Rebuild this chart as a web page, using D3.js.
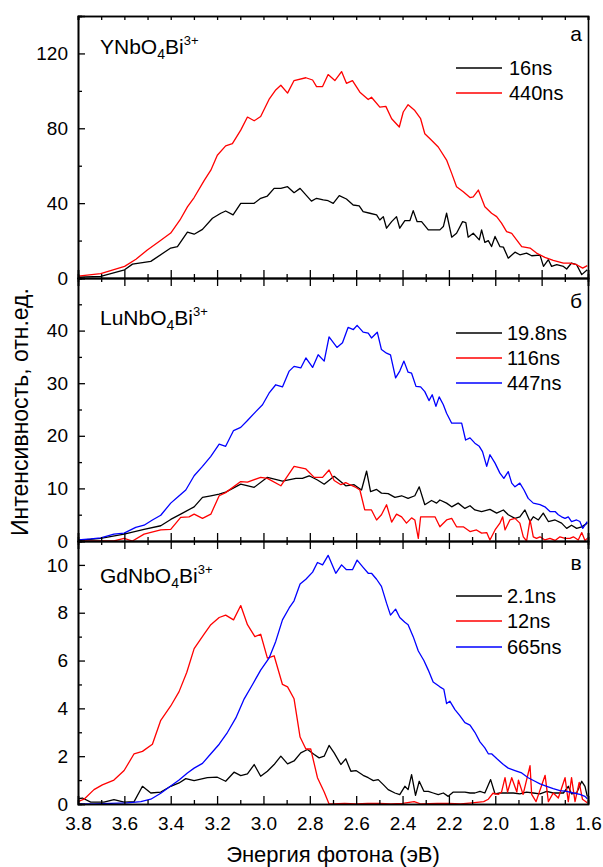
<!DOCTYPE html>
<html><head><meta charset="utf-8">
<script src="https://cdn.jsdelivr.net/npm/d3@7/dist/d3.min.js"></script>
<style>body{margin:0;background:#fff}svg{display:block}text{font-family:Arial,"Liberation Sans",sans-serif;fill:#000}</style>
</head><body><svg id="c" width="603" height="867"></svg>
<script>
// ---------- data (energy eV, intensity) ----------
const xTicks = [3.8,3.6,3.4,3.2,3.0,2.8,2.6,2.4,2.2,2.0,1.8,1.6];
const yTicksA = [0,40,80,120], yTicksB = [0,10,20,30,40], yTicksC = [0,2,4,6,8,10];
const namesA = ["16ns","440ns"], namesB = ["19.8ns","116ns","447ns"], namesC = ["2.1ns","12ns","665ns"];

const yn16 = [[3.800,0.5],[3.702,0.9],[3.599,4.4],[3.565,7.4],[3.486,8.9],[3.400,16],[3.371,16.8],[3.328,24.5],[3.299,23.4],[3.263,26],[3.220,31.9],[3.184,34.6],[3.163,35.8],[3.131,33.7],[3.098,39.9],[3.040,39.9],[3.012,42.6],[2.983,43.8],[2.954,47.9],[2.925,47.9],[2.896,48.8],[2.868,45.6],[2.842,47.9],[2.793,41.1],[2.771,42.6],[2.742,41.7],[2.721,41.3],[2.699,39.9],[2.673,44],[2.642,42.2],[2.613,39],[2.587,38.5],[2.570,35.5],[2.541,34.6],[2.512,33.7],[2.498,31],[2.483,32.8],[2.469,26.6],[2.447,30.1],[2.426,32.8],[2.412,26.6],[2.390,30.7],[2.368,30.7],[2.354,36],[2.337,30.1],[2.318,30.1],[2.289,25.7],[2.268,25.7],[2.239,25.7],[2.224,27.5],[2.210,34.6],[2.188,21.8],[2.167,23.9],[2.141,30.1],[2.127,29.6],[2.117,21.8],[2.095,23.9],[2.069,20.4],[2.059,25.7],[2.045,19],[2.030,20],[2.016,16.8],[2.001,22.2],[1.980,16.8],[1.965,16.5],[1.944,10.6],[1.915,13.8],[1.894,12.4],[1.865,13.3],[1.843,11.9],[1.807,12.2],[1.792,6.2],[1.771,9.8],[1.757,6.2],[1.735,7.1],[1.706,6.2],[1.692,4.8],[1.671,8],[1.649,7.1],[1.627,1.8],[1.603,4.4]];
const yn440 = [[3.800,1],[3.702,2.3],[3.599,6.2],[3.550,10],[3.501,15],[3.450,19.5],[3.400,24],[3.360,31],[3.328,38],[3.299,43],[3.256,52],[3.227,57.6],[3.199,65.6],[3.163,70.6],[3.134,71.8],[3.098,79],[3.069,86],[3.040,84],[3.012,86.3],[2.976,95.4],[2.947,100.5],[2.925,103],[2.896,98.8],[2.868,105.5],[2.817,107],[2.788,105.8],[2.771,102.3],[2.745,102.3],[2.721,108.7],[2.692,105.5],[2.663,110.3],[2.642,104],[2.616,105.5],[2.584,99.3],[2.548,95.4],[2.534,96.6],[2.498,91.3],[2.472,91.7],[2.447,85.1],[2.414,80.7],[2.397,88.7],[2.376,92.6],[2.347,89.5],[2.322,85.1],[2.304,77.1],[2.275,73.6],[2.246,70],[2.210,63],[2.188,55.9],[2.167,48.8],[2.138,46.1],[2.109,43],[2.095,43.4],[2.073,47],[2.045,38.1],[2.016,34.6],[1.994,32.8],[1.973,29.3],[1.951,24.8],[1.929,23.9],[1.908,20.4],[1.886,16.8],[1.850,16],[1.822,13.3],[1.786,11],[1.750,9.4],[1.706,8],[1.678,8],[1.649,7.1],[1.623,5.3],[1.603,6.6]];

const lu198 = [[3.800,0.1],[3.702,0.5],[3.601,1.3],[3.515,2.2],[3.443,2.9],[3.400,4.1],[3.357,5.1],[3.299,6.5],[3.263,8.3],[3.227,8.6],[3.191,8.9],[3.163,9.3],[3.098,10.8],[3.040,10.2],[2.983,12.1],[2.918,11.4],[2.860,11.9],[2.832,11.9],[2.803,12.4],[2.767,11.6],[2.738,10.8],[2.695,12.3],[2.645,10.5],[2.609,10.7],[2.577,9.7],[2.555,13.3],[2.538,9.4],[2.512,9.8],[2.491,9.1],[2.462,9],[2.433,8.3],[2.404,8.6],[2.376,8.1],[2.347,8.6],[2.328,10.3],[2.304,6.9],[2.275,7.7],[2.253,7.2],[2.239,7.8],[2.210,7.2],[2.188,6.5],[2.160,7.2],[2.131,6.2],[2.109,6.7],[2.088,5.9],[2.059,5.6],[2.023,6],[1.994,5.3],[1.965,5.9],[1.944,5],[1.915,4.3],[1.894,4.6],[1.872,5.9],[1.850,3.7],[1.836,4.6],[1.814,4],[1.793,5.3],[1.771,3.7],[1.742,4],[1.714,3.4],[1.692,2.4],[1.671,3],[1.649,2.4],[1.627,2.7],[1.603,3.4]];
const lu116 = [[3.800,0],[3.702,0],[3.645,0],[3.601,0.5],[3.565,0],[3.515,1.3],[3.443,2.1],[3.400,2.2],[3.357,4.5],[3.321,4.6],[3.299,5.1],[3.263,4.3],[3.227,5.1],[3.191,8.6],[3.163,9.2],[3.098,11.3],[3.069,11.2],[3.012,12.1],[2.983,11.9],[2.925,10.5],[2.868,14.2],[2.817,13.7],[2.781,12.1],[2.745,12.1],[2.717,13.5],[2.695,11.5],[2.666,10.7],[2.645,11.1],[2.627,10.7],[2.606,10.3],[2.584,9.7],[2.563,5.9],[2.534,5.9],[2.512,4],[2.491,5],[2.469,6.9],[2.447,3.6],[2.426,5.1],[2.404,4.6],[2.383,3.4],[2.361,4.4],[2.347,4],[2.332,0.5],[2.322,4.6],[2.275,4.6],[2.260,4.6],[2.239,2.7],[2.210,4],[2.188,4.3],[2.167,2.7],[2.138,2.7],[2.109,1.8],[2.081,2.1],[2.059,1.5],[2.037,1.6],[2.023,0.2],[2.001,2.1],[1.980,3.4],[1.968,4.6],[1.958,2.1],[1.937,4],[1.915,4.3],[1.894,3.4],[1.879,0.8],[1.865,0],[1.850,4],[1.836,0.8],[1.822,0.5],[1.807,0.8],[1.786,0.2],[1.764,0.5],[1.742,0.1],[1.721,0.8],[1.699,0.5],[1.678,0.5],[1.663,0.8],[1.642,0.2],[1.627,1.6],[1.613,0.1],[1.603,0.5]];
const lu447 = [[3.800,0.2],[3.745,0.4],[3.702,0.6],[3.645,1.3],[3.601,1.5],[3.551,2.6],[3.515,3],[3.479,4],[3.443,4.9],[3.400,7.2],[3.371,8.3],[3.335,9.7],[3.299,12.4],[3.263,14.2],[3.227,16.1],[3.191,18.4],[3.163,18],[3.129,21],[3.098,21.6],[3.069,22.9],[3.033,24.6],[3.004,25.9],[2.976,28.1],[2.947,29.7],[2.918,29.3],[2.889,32.3],[2.868,33.2],[2.839,32.9],[2.817,34.8],[2.788,33],[2.764,35.4],[2.738,34.2],[2.717,38.8],[2.683,36.8],[2.659,37.7],[2.635,40.6],[2.612,40.2],[2.596,41],[2.570,39.7],[2.548,39.5],[2.534,38.6],[2.509,39.7],[2.491,36.4],[2.469,35.7],[2.452,35.4],[2.430,31],[2.412,32.3],[2.394,34.2],[2.376,32.1],[2.361,31.9],[2.342,29.4],[2.322,29.3],[2.304,28.4],[2.286,26.7],[2.272,27.8],[2.256,25.6],[2.242,27.4],[2.224,25.9],[2.210,24.3],[2.188,22.4],[2.145,22.4],[2.128,19.2],[2.109,19.6],[2.088,18.6],[2.069,18],[2.055,17],[2.037,14.2],[2.023,16.4],[2.001,14.8],[1.980,12.9],[1.963,11.9],[1.944,13.2],[1.929,11],[1.915,10.3],[1.894,11],[1.876,9.7],[1.858,8.1],[1.836,7.2],[1.807,6.9],[1.786,6.5],[1.764,5.6],[1.742,5.6],[1.728,5],[1.714,4.6],[1.699,4.3],[1.685,4.6],[1.671,3.7],[1.649,4],[1.635,3.7],[1.623,2.4],[1.603,3.7]];

const gd21 = [[3.800,0.22],[3.781,0.25],[3.745,0.08],[3.688,0.08],[3.645,0.18],[3.601,0.08],[3.558,0.1],[3.522,0.74],[3.486,0.46],[3.443,0.5],[3.400,0.74],[3.364,0.88],[3.335,1.06],[3.299,0.98],[3.242,1.1],[3.199,1.12],[3.163,0.95],[3.127,1.33],[3.098,1.19],[3.069,1.26],[3.040,1.65],[3.012,1.16],[2.983,1.37],[2.954,1.65],[2.925,2],[2.896,1.68],[2.868,1.8],[2.839,2.14],[2.810,2.28],[2.781,2.07],[2.760,1.93],[2.738,2],[2.717,2.45],[2.695,2.14],[2.666,1.65],[2.645,1.89],[2.623,1.37],[2.601,1.4],[2.570,1.2],[2.548,1.1],[2.526,0.98],[2.505,1.02],[2.483,0.81],[2.462,0.6],[2.433,0.46],[2.412,0.39],[2.390,0.74],[2.376,0.6],[2.361,1.23],[2.344,0.36],[2.328,0.95],[2.308,0.53],[2.289,0.53],[2.268,0.46],[2.246,0.39],[2.224,0.46],[2.203,0.32],[2.181,0.5],[2.160,0.5],[2.131,0.5],[2.109,0.46],[2.088,0.46],[2.066,0.53],[2.045,0.46],[2.020,1.02],[2.001,0.42],[1.980,0.46],[1.951,0.46],[1.922,0.46],[1.894,0.42],[1.865,0.5],[1.836,0.46],[1.807,0.42],[1.778,0.53],[1.750,0.46],[1.728,0.46],[1.706,0.46],[1.685,0.74],[1.671,0.42],[1.649,0.46],[1.627,0.95],[1.613,0.74],[1.603,0.32]];
const gd12 = [[3.800,0.1],[3.774,0.2],[3.731,0.6],[3.695,0.8],[3.645,1.0],[3.601,1.4],[3.558,2.1],[3.522,2.2],[3.479,2.5],[3.443,3.5],[3.400,4.1],[3.364,4.7],[3.331,5.5],[3.299,6.5],[3.256,7.1],[3.227,7.5],[3.191,7.8],[3.163,7.9],[3.129,7.7],[3.098,8.3],[3.069,7.5],[3.037,7.0],[3.012,7.1],[2.983,6.1],[2.954,6.2],[2.918,5.0],[2.896,4.9],[2.868,4.4],[2.842,2.8],[2.817,2.3],[2.796,2.3],[2.767,1.1],[2.738,0.5],[2.717,0],[2.70,0],[2.65,0.02],[2.60,0],[2.55,0.03],[2.50,0.02],[2.45,0],[2.40,0.03],[2.35,0.1],[2.32,0],[2.25,0.02],[2.20,0.03],[2.15,0],[2.10,0.05],[2.05,0.1],[2.03,0.2],[2.01,0.45],[1.987,0.4],[1.973,0.5],[1.958,1.1],[1.947,0.5],[1.929,1.1],[1.907,0.5],[1.900,1.0],[1.880,0.4],[1.850,1.6],[1.843,0.4],[1.824,0.1],[1.785,1.2],[1.771,0.1],[1.750,0.46],[1.728,0.25],[1.699,1.1],[1.685,0.1],[1.671,1.1],[1.656,0.1],[1.638,0.9],[1.624,0.2],[1.603,0.05]];
const gd665 = [[3.800,0],[3.731,0],[3.659,0.03],[3.587,0.05],[3.529,0.1],[3.486,0.2],[3.443,0.45],[3.400,0.75],[3.364,1],[3.328,1.3],[3.299,1.5],[3.263,1.7],[3.227,2.1],[3.191,2.5],[3.155,3],[3.119,3.6],[3.083,4.4],[3.047,5],[3.012,5.6],[2.976,6.1],[2.947,6.8],[2.918,7.7],[2.889,8.2],[2.868,8.5],[2.842,9.2],[2.817,9.4],[2.788,9.7],[2.767,10.1],[2.745,10.0],[2.721,10.4],[2.688,9.65],[2.663,10],[2.642,9.8],[2.616,9.8],[2.596,10.2],[2.570,9.9],[2.548,9.65],[2.534,9.65],[2.512,9.4],[2.491,9.1],[2.469,8.4],[2.452,7.9],[2.430,8.15],[2.412,7.8],[2.390,7.6],[2.376,7.5],[2.354,7],[2.332,6.4],[2.308,6],[2.289,5.6],[2.268,5.1],[2.239,4.9],[2.222,4.8],[2.210,4.2],[2.196,4.3],[2.174,3.95],[2.153,3.7],[2.131,3.4],[2.109,3.3],[2.088,3],[2.066,2.6],[2.045,2.35],[2.030,2.1],[2.016,2.1],[1.994,1.9],[1.965,1.65],[1.944,1.5],[1.915,1.4],[1.886,1.3],[1.858,1.1],[1.829,0.95],[1.807,0.84],[1.778,0.74],[1.750,0.64],[1.721,0.56],[1.692,0.53],[1.663,0.46],[1.635,0.4],[1.613,0.32],[1.603,0.22]];

// ---------- layout ----------
const svg = d3.select("#c");
const X0 = 78, X1 = 588;
const x = d3.scaleLinear().domain([3.8,1.6]).range([X0,X1]);
const xMinor = d3.range(38,15,-1).map(d=>d/10);
const C = {k:"#000000", r:"#ff0000", b:"#0000ff"};

const panels = [
  {top:16, bot:278, ymax:140, ticks:yTicksA, minorStep:20, series:[[yn16,C.k],[yn440,C.r]], names:namesA,
   legY:[68,93], legTxt:509, formula:["YNbO","4","Bi","3+"], fy:54, letter:"а", ly:41},
  {top:278, bot:541, ymax:50, ticks:yTicksB, minorStep:5, series:[[lu198,C.k],[lu116,C.r],[lu447,C.b]], names:namesB,
   legY:[333,358,383], legTxt:507, formula:["LuNbO","4","Bi","3+"], fy:325, letter:"б", ly:308},
  {top:541, bot:804, ymax:11, ticks:yTicksC, minorStep:1, series:[[gd21,C.k],[gd12,C.r],[gd665,C.b]], names:namesC,
   legY:[596,621,647], legTxt:507, formula:["GdNbO","4","Bi","3+"], fy:583, letter:"в", ly:570}
];

panels.forEach((p,i)=>{
  const y = d3.scaleLinear().domain([0,p.ymax]).range([p.bot,p.top]);
  const g = svg.append("g");
  const cid = "clip"+i;
  svg.append("clipPath").attr("id",cid).append("rect")
    .attr("x",X0).attr("y",p.top).attr("width",X1-X0).attr("height",p.bot-p.top);

  const line = d3.line().x(d=>x(d[0])).y(d=>y(d[1]));
  const lg = g.append("g").attr("clip-path","url(#"+cid+")");
  p.series.forEach(([data,col])=>{
    lg.append("path").datum(data).attr("d",line).attr("fill","none")
      .attr("stroke",col).attr("stroke-width",1.3).attr("stroke-linejoin","round");
  });

  // left axis
  const minors = d3.range(0,p.ymax+1e-9,p.minorStep).filter(v=>!p.ticks.includes(v));
  const la = g.append("g").attr("transform",`translate(${X0},0)`)
    .call(d3.axisLeft(y).tickValues(p.ticks).tickSize(-7).tickPadding(10).tickFormat(d3.format("d")));
  la.selectAll("text").attr("font-size",19).style("font-family","Arial, 'Liberation Sans', sans-serif");
  g.append("g").attr("transform",`translate(${X0},0)`)
    .call(d3.axisLeft(y).tickValues(minors).tickSize(-4).tickFormat(""));

  // bottom axis (inward)
  const ba = g.append("g").attr("transform",`translate(0,${p.bot})`)
    .call(d3.axisBottom(x).tickValues(xTicks).tickSize(-8).tickPadding(13)
      .tickFormat(i===2 ? d3.format(".1f") : ""));
  ba.selectAll("text").attr("font-size",19).style("font-family","Arial, 'Liberation Sans', sans-serif");
  g.append("g").attr("transform",`translate(0,${p.bot})`)
    .call(d3.axisBottom(x).tickValues(xMinor.filter(v=>!xTicks.some(t=>Math.abs(t-v)<1e-6))).tickSize(-4).tickFormat(""));

  // top axis (inward)
  const tl = i===0 ? 4 : 8;
  g.append("g").attr("transform",`translate(0,${p.top})`)
    .call(d3.axisTop(x).tickValues(xTicks).tickSize(-tl).tickFormat(""));
  g.append("g").attr("transform",`translate(0,${p.top})`)
    .call(d3.axisTop(x).tickValues(xMinor.filter(v=>!xTicks.some(t=>Math.abs(t-v)<1e-6))).tickSize(-4).tickFormat(""));

  // right border
  g.append("g").attr("transform",`translate(${X1},0)`)
    .call(d3.axisRight(y).tickValues([]).tickSizeOuter(0));

  g.selectAll(".domain").attr("stroke","#000").attr("stroke-width",1.6);
  g.selectAll(".tick line").attr("stroke","#000").attr("stroke-width",1.3);

  // legend
  p.names.forEach((n,j)=>{
    const col = p.series[j][1];
    g.append("line").attr("x1",456).attr("x2",502).attr("y1",p.legY[j]).attr("y2",p.legY[j])
      .attr("stroke",col).attr("stroke-width",1.3);
    g.append("text").attr("x",p.legTxt).attr("y",p.legY[j]).attr("dy","0.36em")
      .attr("font-size",20).text(n);
  });

  // formula
  const f = g.append("text").attr("x",100).attr("y",p.fy).attr("font-size",21);
  f.append("tspan").text(p.formula[0]);
  f.append("tspan").attr("font-size",14).attr("dy",5).text(p.formula[1]);
  f.append("tspan").attr("dy",-5).text(p.formula[2]);
  f.append("tspan").attr("font-size",13).attr("dy",-9).text(p.formula[3]);

  // panel letter
  g.append("text").attr("x",576).attr("y",p.ly).attr("text-anchor","middle").attr("font-size",21).text(p.letter);
});

svg.append("text").attr("transform","translate(28,412) rotate(-90)").attr("text-anchor","middle")
  .attr("font-size",23).text("Интенсивность, отн.ед.");
svg.append("text").attr("x",333).attr("y",862).attr("text-anchor","middle")
  .attr("font-size",22).text("Энергия фотона (эВ)");
</script></body></html>
